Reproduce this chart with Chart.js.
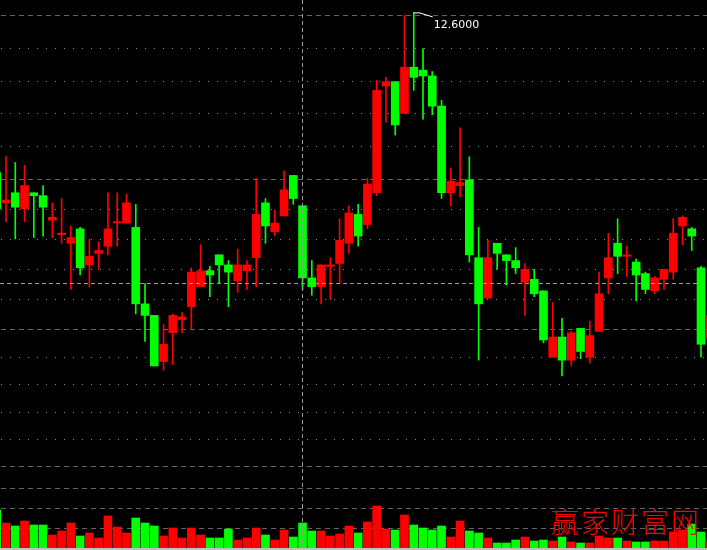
<!DOCTYPE html>
<html><head><meta charset="utf-8">
<script src="https://cdn.jsdelivr.net/npm/chart.js@4/dist/chart.umd.min.js"></script>
<style>
html,body{margin:0;padding:0;background:#000;}
#wrap{position:relative;width:707px;height:550px;background:#000;overflow:hidden;}
#c{position:absolute;left:0;top:0;width:707px;height:548px;}
#strip{position:absolute;left:0;top:548px;width:707px;height:2px;background:#c0c0c0;}
#wm{position:absolute;left:551px;top:507px;font-family:"Noto Sans CJK SC";font-weight:300;font-size:28px;letter-spacing:2px;color:#f00;line-height:1;white-space:nowrap;}
</style></head>
<body>
<div id="wrap"><canvas id="c" width="707" height="548"></canvas><div id="strip"></div><div id="wm">赢家财富网</div></div>
<script>
// ---- data (one entry per trading day, left to right) ----
const opens = [11.49, 11.28, 11.35, 11.24, 11.35, 11.33, 11.16, 11.06, 11.00, 11.10,
 10.85, 10.93, 10.98, 11.14, 11.14, 11.11, 10.58, 10.50, 10.18, 10.38,
 10.47, 10.56, 10.70, 10.81, 10.92, 10.85, 10.74, 10.81, 10.90, 11.28,
 11.08, 11.19, 11.47, 11.26, 10.76, 10.70, 10.84, 10.86, 11.00, 11.20,
 11.13, 11.35, 12.09, 12.12, 11.90, 12.22, 12.20, 12.16, 11.95, 11.35,
 11.40, 11.44, 10.90, 10.62, 11.00, 10.92, 10.88, 10.73, 10.75, 10.67,
 10.21, 10.35, 10.19, 10.41, 10.21, 10.39, 10.76, 11.00, 10.91, 10.87,
 10.79, 10.67, 10.75, 10.80, 11.12, 11.10, 10.83, 10.34];
const highs = [11.52, 11.60, 11.56, 11.54, 11.35, 11.40, 11.28, 11.31, 11.12, 11.11,
 11.03, 11.01, 11.35, 11.35, 11.34, 11.27, 10.72, 10.50, 10.44, 10.51,
 10.52, 10.83, 10.99, 10.84, 10.92, 10.88, 10.96, 10.88, 11.45, 11.31,
 11.23, 11.50, 11.47, 11.26, 10.88, 10.85, 10.90, 11.17, 11.26, 11.27,
 11.45, 12.13, 12.15, 12.12, 12.58, 12.60, 12.35, 12.19, 11.99, 11.52,
 11.80, 11.60, 11.11, 11.02, 11.00, 10.92, 10.97, 10.86, 10.82, 10.67,
 10.59, 10.48, 10.39, 10.41, 10.46, 10.80, 11.07, 11.17, 10.98, 10.89,
 10.80, 10.77, 10.82, 11.17, 11.19, 11.11, 10.84, 10.54];
const lows = [11.22, 11.15, 11.03, 11.15, 11.04, 11.05, 11.04, 11.00, 10.68, 10.78,
 10.70, 10.82, 10.92, 10.98, 11.14, 10.51, 10.32, 10.15, 10.12, 10.16,
 10.38, 10.40, 10.70, 10.63, 10.72, 10.56, 10.66, 10.68, 10.70, 11.00,
 11.05, 11.19, 11.27, 10.68, 10.64, 10.58, 10.61, 10.72, 10.93, 10.98,
 11.10, 11.33, 11.84, 11.75, 11.90, 12.06, 11.86, 11.89, 11.31, 11.26,
 11.32, 10.87, 10.19, 10.62, 10.82, 10.71, 10.79, 10.50, 10.63, 10.31,
 10.21, 10.08, 10.15, 10.20, 10.17, 10.39, 10.65, 10.79, 10.77, 10.60,
 10.65, 10.65, 10.68, 10.75, 10.99, 10.95, 10.21, 10.32];
const closes = [11.24, 11.30, 11.25, 11.40, 11.33, 11.25, 11.18, 11.07, 11.04, 10.83,
 10.91, 10.95, 11.10, 11.15, 11.28, 10.58, 10.50, 10.15, 10.30, 10.50,
 10.49, 10.80, 10.81, 10.78, 10.85, 10.80, 10.85, 10.85, 11.20, 11.12,
 11.14, 11.37, 11.31, 10.76, 10.70, 10.85, 10.85, 11.02, 11.21, 11.05,
 11.41, 12.06, 12.12, 11.82, 12.22, 12.15, 12.16, 11.95, 11.35, 11.43,
 11.42, 10.92, 10.58, 10.90, 10.93, 10.88, 10.83, 10.82, 10.65, 10.33,
 10.35, 10.19, 10.38, 10.25, 10.36, 10.65, 10.90, 10.91, 10.92, 10.78,
 10.68, 10.76, 10.82, 11.07, 11.18, 11.05, 10.30, 10.50];
const volumes = [38, 25, 22, 27, 23, 23, 13, 17, 25, 12,
 15, 10, 32, 21, 15, 30, 25, 22, 12, 20,
 10, 20, 13, 10, 10, 19, 8, 10, 20, 13,
 8, 18, 11, 25, 17, 17, 12, 14, 22, 15,
 26, 42, 19, 18, 33, 23, 20, 18, 22, 11,
 27, 17, 15, 10, 5, 5, 8, 11, 7, 8,
 7, 11, 6, 5, 5, 12, 10, 10, 7, 6,
 6, 7, 7, 16, 18, 24, 16, 7];
// grid / reference levels (price and volume)
const dashedLevels = [12.58, 11.44, 10.40, 9.45];
const dottedLevels = [12.352, 12.124, 11.896, 11.668, 11.232, 11.024, 10.816, 10.608, 10.21, 10.02, 9.83, 9.64];
const volumeLevels = [20, 40, 60];
const crossDay = 33, crossPrice = 10.72;

const UP = '#ff0000', DOWN = '#00ff00';
const colorOf = j => closes[j] >= opens[j] ? UP : DOWN;

const overlay = {
  id: 'overlay',
  beforeDatasetsDraw(chart) {
    const {ctx, chartArea: a, scales: {y, v}} = chart;
    ctx.save();
    ctx.lineWidth = 1;
    const hline = (py, color, dash) => {
      const yy = Math.floor(py) + 0.5;
      ctx.strokeStyle = color; ctx.setLineDash(dash);
      ctx.beginPath(); ctx.moveTo(a.left + 1, yy); ctx.lineTo(a.right, yy); ctx.stroke();
    };
    dottedLevels.forEach(p => hline(y.getPixelForValue(p), '#8a8a8a', [1, 8]));
    dashedLevels.forEach(p => hline(y.getPixelForValue(p), '#646464', [5, 4]));
    volumeLevels.forEach(q => hline(v.getPixelForValue(q), '#646464', [5, 4]));
    ctx.restore();
  },
  afterDatasetsDraw(chart) {
    const {ctx, chartArea: a, scales: {x, y}} = chart;
    ctx.save();
    ctx.lineWidth = 1;
    ctx.strokeStyle = '#9a9a9a';
    ctx.setLineDash([4, 3]);
    const cx = Math.floor(x.getPixelForValue(crossDay)) + 0.5;
    ctx.beginPath(); ctx.moveTo(cx, a.top); ctx.lineTo(cx, a.bottom); ctx.stroke();
    const cy = Math.floor(y.getPixelForValue(crossPrice)) + 0.5;
    ctx.beginPath(); ctx.moveTo(a.left, cy); ctx.lineTo(a.right, cy); ctx.stroke();
    // max marker
    let mi = 0;
    highs.forEach((h, j) => { if (h > highs[mi]) mi = j; });
    const px = x.getPixelForValue(mi), py = y.getPixelForValue(highs[mi]);
    ctx.setLineDash([]);
    ctx.strokeStyle = '#ffffff';
    ctx.beginPath(); ctx.moveTo(px, py + 0.5); ctx.lineTo(px + 6, py + 0.5); ctx.lineTo(px + 19, py + 4.5); ctx.stroke();
    ctx.fillStyle = '#ffffff';
    ctx.font = '11px "DejaVu Sans"';
    ctx.textBaseline = 'alphabetic';
    ctx.fillText(highs[mi].toFixed(4), px + 20, py + 16);
    ctx.restore();
  }
};

new Chart(document.getElementById('c'), {
  type: 'bar',
  data: {
    datasets: [
      { data: opens.map((o, j) => ({x: j, y: [o, closes[j]]})), barThickness: 8, yAxisID: 'y',
        backgroundColor: c => colorOf(c.dataIndex), order: 0 },
      { data: lows.map((l, j) => ({x: j, y: [l, highs[j]]})), barThickness: 1, yAxisID: 'y',
        backgroundColor: c => colorOf(c.dataIndex), order: 1 },
      { data: volumes.map((q, j) => ({x: j, y: q})), barThickness: 8, yAxisID: 'v',
        backgroundColor: c => colorOf(c.dataIndex), order: 2 }
    ]
  },
  options: {
    responsive: false, animation: false, events: [],
    layout: {padding: 0},
    datasets: {bar: {grouped: false, borderWidth: 0}},
    plugins: {legend: {display: false}, tooltip: {enabled: false}},
    scales: {
      x: {type: 'linear', min: 0.3525, max: 76.645, display: false, offset: false},
      y: {type: 'linear', min: 8.888, max: 12.686, display: false},
      v: {type: 'linear', min: 0, max: 548, display: false}
    }
  },
  plugins: [overlay]
});
</script>
</body></html>
